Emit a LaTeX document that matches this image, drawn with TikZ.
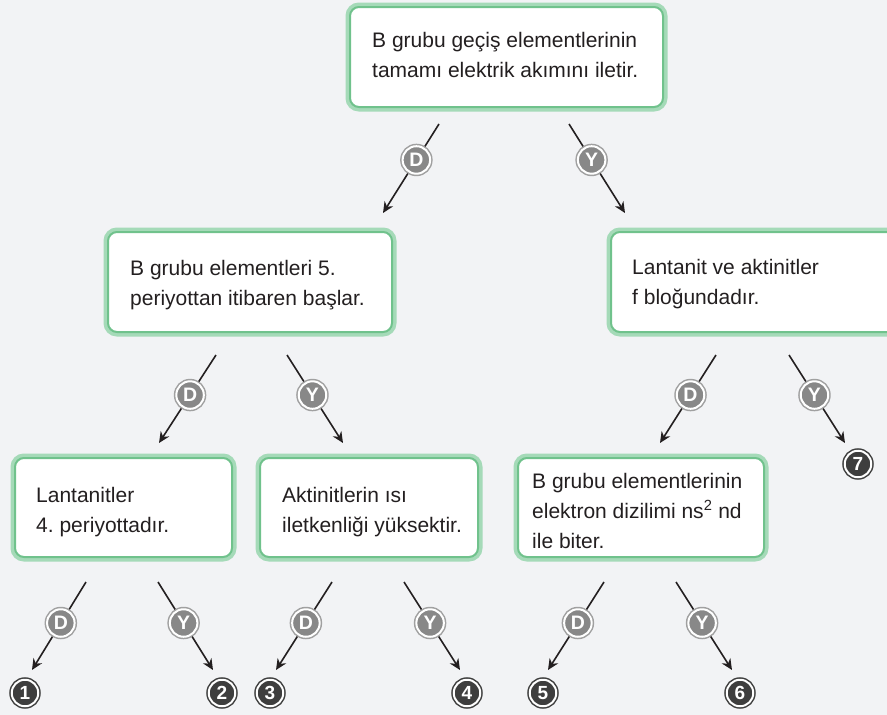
\documentclass[tikz,border=0pt]{standalone}
\usepackage{fontspec}
\setmainfont{Liberation Sans}
\usetikzlibrary{arrows.meta}
\frenchspacing
\definecolor{bg}{RGB}{242,243,245}
\definecolor{gl}{RGB}{165,218,184}
\definecolor{gd}{RGB}{112,194,140}
\definecolor{dyg}{RGB}{136,136,136}
\definecolor{dygo}{RGB}{160,160,160}
\definecolor{numd}{RGB}{62,62,62}
\definecolor{ink}{RGB}{35,31,32}
\tikzset{
  box/.style={rectangle, rounded corners=9pt, preaction={draw=gl, line width=9pt},
    draw=gd, line width=2pt, fill=white, inner sep=0pt},
  txt/.style={anchor=base west, align=left, inner sep=0pt,
    font=\fontsize{21}{30}\selectfont, text=ink},
  arr/.style={line width=1.6pt, draw=ink, -{Stealth[length=11pt,width=10pt,inset=3.5pt]}},
  dy/.style={circle, inner sep=0pt, minimum size=27.5pt, fill=dyg, draw=white, line width=2pt,
    preaction={draw=dygo, line width=5pt}, text=white,
    font=\fontsize{19.5}{19.5}\bfseries\selectfont},
  num/.style={circle, inner sep=0pt, minimum size=26.5pt, fill=numd, draw=white, line width=2pt,
    preaction={draw=numd, line width=5pt}, text=white,
    font=\fontsize{19}{19}\bfseries\selectfont},
}
\begin{document}
\begin{tikzpicture}[x=1pt, y=-1pt]
\useasboundingbox (0,0) rectangle (887,715);
\clip (0,0) rectangle (887,715);
\fill[bg] (0,0) rectangle (887,715);

% boxes
\node[box, minimum width=313pt, minimum height=100pt] (b1) at (506.5,57) {};
\node[box, minimum width=284pt, minimum height=100pt] (b2) at (250,282) {};
\node[box, minimum width=294pt, minimum height=100pt] (b3) at (758,282) {};
\node[box, minimum width=217pt, minimum height=99pt] (b4) at (123.5,507.5) {};
\node[box, minimum width=218pt, minimum height=99pt] (b5) at (369,507.5) {};
\node[box, minimum width=246pt, minimum height=99pt] (b6) at (641,507.5) {};

% texts (anchor = baseline of the last line)
\node[txt] (t1) at (372,77) {B grubu geçiş elementlerinin\\tamamı elektrik akımını iletir.};
\node[txt] (t2) at (130,305) {B grubu elementleri 5.\\periyottan itibaren başlar.};
\node[txt] (t3) at (632,304) {Lantanit ve aktinitler\\f bloğundadır.};
\node[txt] (t4) at (36,532) {Lantanitler\\4. periyottadır.};
\node[txt] (t5) at (282,532) {Aktinitlerin ısı\\iletkenliği yüksektir.};
\node[txt] (t6) at (532,548) {B grubu elementlerinin\\elektron dizilimi ns\textsuperscript{2} nd\\ile biter.};

% end numbers
\node[num] (n1) at (25,693) {1};
\node[num] (n2) at (222,693) {2};
\node[num] (n3) at (270,693) {3};
\node[num] (n4) at (467,693) {4};
\node[num] (n5) at (543,693) {5};
\node[num] (n6) at (740,693) {6};
\node[num] (n7) at (858,464) {7};

% connector coordinates
\coordinate (s1D) at (439,124); \coordinate (e1D) at (383,213);
\coordinate (s1Y) at (569,124); \coordinate (e1Y) at (625,213);
\coordinate (s2D) at (216,355); \coordinate (e2D) at (159,443);
\coordinate (s2Y) at (287,355); \coordinate (e2Y) at (343,443);
\coordinate (s3D) at (716,355); \coordinate (e3D) at (660,443);
\coordinate (s3Y) at (789,355); \coordinate (e3Y) at (845,443);
\coordinate (s4D) at (86,582);  \coordinate (e4D) at (32,670);
\coordinate (s4Y) at (158,582); \coordinate (e4Y) at (213,670);
\coordinate (s5D) at (332,582); \coordinate (e5D) at (276,670);
\coordinate (s5Y) at (404,582); \coordinate (e5Y) at (460,670);
\coordinate (s6D) at (604,582); \coordinate (e6D) at (548,670);
\coordinate (s6Y) at (676,582); \coordinate (e6Y) at (732,670);

\draw[arr] (s1D) -- node[dy, pos=0.404] (c1D) {D} (e1D);
\draw[arr] (s1Y) -- node[dy, pos=0.404] (c1Y) {Y} (e1Y);
\draw[arr] (s2D) -- node[dy, pos=0.455] (c2D) {D} (e2D);
\draw[arr] (s2Y) -- node[dy, pos=0.455] (c2Y) {Y} (e2Y);
\draw[arr] (s3D) -- node[dy, pos=0.455] (c3D) {D} (e3D);
\draw[arr] (s3Y) -- node[dy, pos=0.455] (c3Y) {Y} (e3Y);
\draw[arr] (s4D) -- node[dy, pos=0.466] (c4D) {D} (e4D);
\draw[arr] (s4Y) -- node[dy, pos=0.466] (c4Y) {Y} (e4Y);
\draw[arr] (s5D) -- node[dy, pos=0.466] (c5D) {D} (e5D);
\draw[arr] (s5Y) -- node[dy, pos=0.466] (c5Y) {Y} (e5Y);
\draw[arr] (s6D) -- node[dy, pos=0.466] (c6D) {D} (e6D);
\draw[arr] (s6Y) -- node[dy, pos=0.466] (c6Y) {Y} (e6Y);
\end{tikzpicture}
\end{document}
